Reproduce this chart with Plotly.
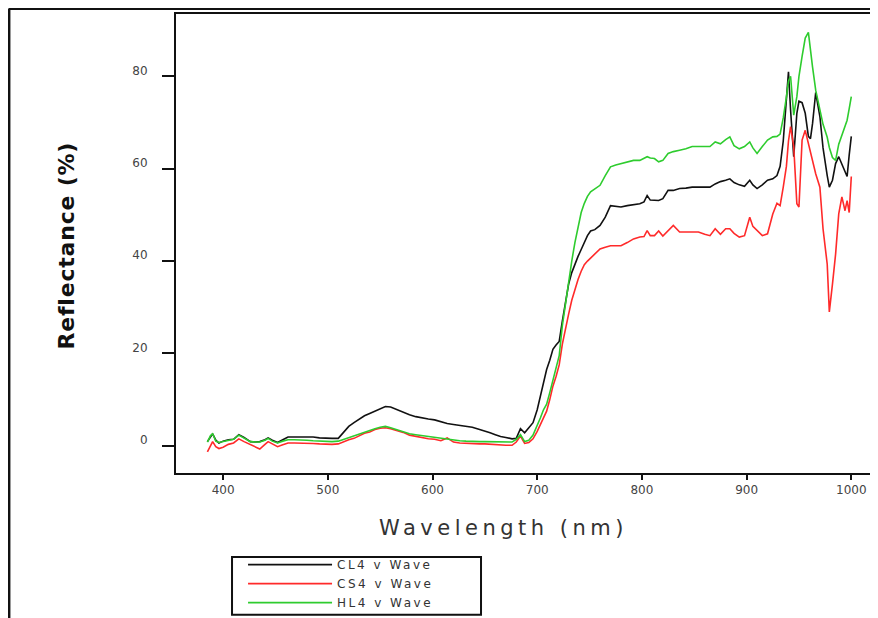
import plotly.graph_objects as go

# wavelength (nm), shared by the three spectra
wavelength = [
    385, 388, 390, 393, 396, 400, 405, 410, 415, 420,
    426, 431, 435, 440, 443, 447, 452, 457, 462, 468,
    474, 480, 486, 492, 498, 504, 510, 515, 520, 525,
    530, 535, 540, 545, 550, 555, 560, 566, 572, 578,
    584, 590, 596, 602, 608, 614, 620, 626, 632, 638,
    645, 650, 655, 660, 665, 670, 676, 680, 684, 688,
    692, 696, 700, 703, 706, 709, 712, 715, 718, 721,
    724, 727, 730, 733, 736, 739, 742, 745, 748, 751,
    755, 760, 765, 770, 775, 780, 786, 792, 798, 802,
    805, 808, 812, 816, 820, 825, 830, 836, 842, 848,
    854, 860, 865, 870, 875, 880, 884, 888, 893, 898,
    903, 906, 910, 915, 920, 925, 929, 932, 935, 938,
    940, 942, 945, 948, 950, 953, 956, 959, 961, 963,
    966, 970, 973, 977, 979, 982, 985, 988, 991, 994,
    996, 998, 1000,
]

cl4 = [
    0.9, 2.0, 2.6, 1.2, 0.6, 1.0, 1.3, 1.4, 2.4, 1.8,
    0.9, 0.8, 0.9, 1.3, 1.7, 1.2, 0.7, 1.3, 1.9, 1.9,
    1.9, 1.9, 1.9, 1.7, 1.6, 1.6, 1.6, 2.8, 4.2, 5.0,
    5.8, 6.5, 7.0, 7.5, 8.0, 8.5, 8.4, 7.8, 7.2, 6.7,
    6.3, 6.0, 5.8, 5.6, 5.2, 4.8, 4.6, 4.4, 4.2, 4.0,
    3.5, 3.2, 2.8, 2.4, 2.0, 1.8, 1.5, 1.6, 3.7, 2.8,
    3.9, 5.0, 7.8, 10.7, 13.5, 16.5, 18.5, 20.9, 21.8, 22.6,
    27.0, 31.0, 35.0, 37.5, 39.5, 41.0, 42.5, 44.0, 45.5, 46.5,
    46.8, 47.7, 49.5, 52.0, 51.8, 51.7, 52.0, 52.2, 52.4, 52.8,
    54.2, 53.2, 53.1, 53.1, 53.5, 55.3, 55.3, 55.7, 55.8, 56.0,
    56.0, 56.0, 56.0, 56.7, 57.2, 57.5, 57.8, 57.0, 56.5, 56.2,
    57.5, 56.5, 55.7, 56.5, 57.5, 57.8, 58.5, 60.5, 66.0, 75.0,
    81.0, 72.7, 62.6, 72.0, 74.6, 74.3, 72.0, 67.0, 66.5, 69.8,
    76.5, 71.3, 64.5, 58.5, 56.0, 57.5, 61.1, 62.6, 61.1, 59.6,
    58.3, 63.0, 67.0,
]

cs4 = [
    -1.3, 0.2, 0.9, -0.2, -0.6, -0.3, 0.3, 0.6, 1.5, 0.9,
    0.2, -0.3, -0.7, 0.3, 0.9, 0.4, -0.2, 0.2, 0.6, 0.6,
    0.6, 0.5, 0.5, 0.4, 0.3, 0.3, 0.4, 0.9, 1.3, 1.6,
    2.2, 2.7, 3.0, 3.5, 3.8, 3.9, 3.7, 3.3, 2.9, 2.3,
    2.0, 1.8, 1.5, 1.4, 1.1, 1.7, 0.8, 0.6, 0.5, 0.5,
    0.4, 0.4, 0.3, 0.3, 0.2, 0.1, 0.1, 0.8, 2.1, 0.5,
    0.7, 1.5, 3.1, 4.5, 6.0, 7.5, 10.0, 12.9, 15.0, 17.5,
    22.0, 25.5, 28.5, 31.5, 34.0, 36.0, 37.8, 39.2, 40.0, 40.6,
    41.5, 42.6, 43.0, 43.3, 43.3, 43.3, 44.0, 44.8, 45.2, 45.3,
    46.6, 45.5, 45.5, 46.5, 45.4, 46.5, 47.7, 46.3, 46.3, 46.3,
    46.3, 45.8, 45.5, 47.0, 45.8, 47.0, 47.0, 46.0, 45.2, 45.5,
    49.5, 47.5, 46.6, 45.5, 45.9, 50.2, 52.5, 52.0, 56.0, 60.5,
    66.0, 69.1, 64.8, 52.4, 51.7, 66.2, 68.3, 65.4, 63.7, 61.1,
    58.9, 56.0, 47.0, 39.3, 29.0, 35.0, 41.5, 50.2, 53.9, 50.9,
    53.1, 50.5, 58.3,
]

hl4 = [
    0.8, 2.2, 2.6, 1.0, 0.7, 0.9, 1.2, 1.4, 2.3, 1.7,
    0.9, 0.8, 0.8, 1.2, 1.6, 1.0, 0.6, 1.0, 1.3, 1.3,
    1.3, 1.2, 1.1, 1.0, 0.9, 0.9, 1.0, 1.4, 1.8, 2.1,
    2.5, 2.9, 3.3, 3.7, 4.0, 4.2, 3.9, 3.5, 3.0, 2.6,
    2.4, 2.2, 2.0, 1.9, 1.6, 1.4, 1.3, 1.1, 1.0, 0.9,
    0.9, 0.9, 0.9, 0.8, 0.8, 0.8, 0.8, 1.4, 2.4, 0.9,
    1.2, 2.3, 4.2, 6.0, 7.8, 9.0, 11.5, 14.3, 16.5, 19.5,
    26.0, 31.0, 36.0, 40.0, 44.0, 47.5, 50.5, 52.5, 54.0, 55.0,
    55.6, 56.4, 58.5, 60.4, 60.8, 61.1, 61.4, 61.8, 61.8, 62.2,
    62.6, 62.3, 62.2, 61.5, 61.8, 63.3, 63.7, 64.0, 64.3, 64.8,
    64.8, 64.8, 64.8, 65.8, 65.4, 66.3, 66.9, 65.0, 64.3, 64.8,
    65.8, 64.5, 63.3, 64.8, 66.2, 66.9, 67.0, 67.5, 71.0, 75.5,
    79.0, 80.0, 71.6, 75.6, 80.0, 84.3, 88.3, 89.5, 85.4, 82.0,
    77.0, 72.7, 69.6, 66.8, 64.6, 62.4, 61.8, 65.3, 67.1, 69.0,
    70.5, 73.0, 75.6,
]

series_names = ['CL4 v Wave', 'CS4 v Wave', 'HL4 v Wave']
series_colors = ['#111111', '#ff2a2a', '#2ecc2e']

fig = go.Figure()
for name, vals, color in zip(series_names, [cl4, cs4, hl4], series_colors):
    fig.add_trace(go.Scatter(
        x=wavelength, y=vals, mode='lines',
        name=f'<span style="letter-spacing:2.5px">{name}</span>',
        line=dict(color=color, width=1.6),
    ))

# axes: ticks outside, plot frame top + left + bottom
fig.update_xaxes(
    range=[355, 1025.5], tickvals=[400, 500, 600, 700, 800, 900, 1000],
    showgrid=False, zeroline=False, showline=True, linecolor='#111', linewidth=2,
    mirror=True, ticks='outside', ticklen=5, tickwidth=2, tickcolor='#111',
    tickfont=dict(family='DejaVu Sans', size=12, color='#444'),
)
fig.update_yaxes(
    range=[-5.9, 93.5], tickvals=[0, 20, 40, 60, 80],
    showgrid=False, zeroline=False, showline=True, linecolor='#111', linewidth=2,
    ticks='outside', ticklen=12, tickwidth=2, tickcolor='#111',
    ticklabelstandoff=12, ticklabelshift=-6,
    tickfont=dict(family='DejaVu Sans', size=12, color='#444'),
)

# axis titles placed as annotations to sit where the original has them
fig.add_annotation(text='<span style="letter-spacing:4.5px">Wavelength (nm)</span>',
                   xref='paper', yref='paper', x=0.467, y=-0.12, yanchor='middle',
                   showarrow=False,
                   font=dict(family='DejaVu Sans', size=21, color='#333'))
fig.add_annotation(text='<b><span style="letter-spacing:0.8px">Reflectance (%)</span></b>',
                   xref='paper', yref='paper', x=-0.1766, y=0.4946, textangle=-90,
                   showarrow=False, font=dict(family='DejaVu Sans', size=22, color='#111'))

# outer frame (top and left edges) and legend box
fig.add_shape(type='line', xref='paper', yref='paper', x0=-0.238, x1=1.0,
              y0=1.012, y1=1.012, line=dict(color='#111', width=3))
fig.add_shape(type='line', xref='paper', yref='paper', x0=-0.238, x1=-0.238,
              y0=1.012, y1=-0.32, line=dict(color='#111', width=3))
fig.add_shape(type='rect', xref='paper', yref='paper', x0=0.0798, x1=0.4345,
              y0=-0.183, y1=-0.309, line=dict(color='#111', width=2))

# page body adds an 8px offset, so the figure is 8px smaller than the window
fig.update_layout(
    width=870, height=610,
    margin=dict(l=168, r=0, t=6, b=145, autoexpand=False),
    paper_bgcolor='white', plot_bgcolor='white',
    showlegend=True,
    legend=dict(x=0.0955, y=-0.168, xanchor='left', yanchor='top',
                bgcolor='rgba(0,0,0,0)', borderwidth=0, itemwidth=84,
                font=dict(family='DejaVu Sans', size=12, color='#333'),
                tracegroupgap=0),
)

fig.write_html('out.html')
